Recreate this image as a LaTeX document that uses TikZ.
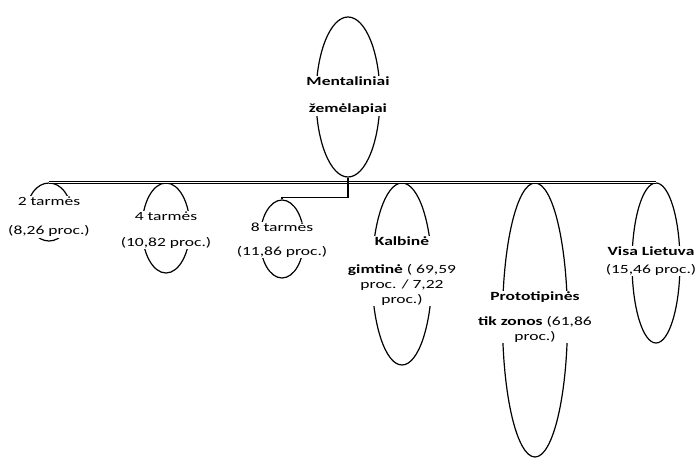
\documentclass[tikz,border=0pt]{standalone}
\usepackage{fontspec}
\setmainfont{Carlito}[FakeStretch=1.4]
\usetikzlibrary{shapes.geometric}
\tikzset{
  oval/.style={ellipse,draw=black,line width=1.2pt,inner sep=0pt},
  ovaltext/.style={fill=white,inner sep=1pt,align=center,
    font=\fontsize{12.5}{15}\selectfont},
  busline/.style={draw=black,double,double distance=0.7pt,line width=0.8pt},
  link/.style={draw=black,line width=1.2pt}
}
\begin{document}
\begin{tikzpicture}[x=1pt,y=1pt]
  \useasboundingbox (0,0) rectangle (699,-461);
  % ovals
  \node[oval, minimum width=64, minimum height=160] (root) at (348,-97) {};
  \node[oval, minimum width=44, minimum height=58] (o1) at (49,-212) {};
  \node[oval, minimum width=48, minimum height=90] (o2) at (166,-228) {};
  \node[oval, minimum width=44, minimum height=78] (o3) at (282,-239) {};
  \node[oval, minimum width=60, minimum height=182] (o4) at (402,-274) {};
  \node[oval, minimum width=65, minimum height=274] (o5) at (535,-320) {};
  \node[oval, minimum width=48, minimum height=160] (o6) at (656,-263) {};
  % connectors
  \draw[busline] (o1.north) -- (o6.north);
  \draw[link] (root.south) -- ++(0,-20) -| (o3.north);
  % texts
  \node[ovaltext] (rootlabel) at (348,-96) {\textbf{Mentaliniai}\\[12pt]\textbf{žemėlapiai}};
  \node[ovaltext] (t1) at (49,-217) {2 tarmės\\[14pt](8,26 proc.)};
  \node[ovaltext] (t2) at (166,-230) {4 tarmės\\[11pt](10,82 proc.)};
  \node[ovaltext] (t3) at (282,-240) {8 tarmės\\[9pt](11,86 proc.)};
  \node[ovaltext] (t4) at (402,-271) {\textbf{Kalbinė}\\[13pt]\textbf{gimtinė} ( 69,59\\proc. / 7,22\\proc.)};
  \node[ovaltext] (t5) at (535,-317) {\textbf{Prototipinės}\\[10pt]\textbf{tik zonos} (61,86\\proc.)};
  \node[ovaltext] (t6) at (651,-261) {\textbf{Visa Lietuva}\\[3pt](15,46 proc.)};
\end{tikzpicture}
\end{document}
